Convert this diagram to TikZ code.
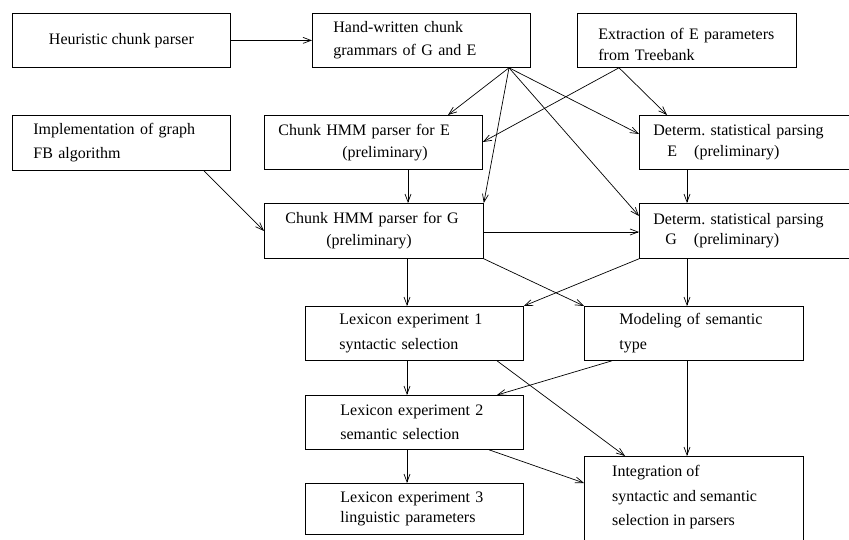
\documentclass[tikz,border=0pt]{standalone}
\usepackage{fontspec}
\setmainfont{Liberation Serif}
\usetikzlibrary{arrows.meta,calc}

\begin{document}
\begin{tikzpicture}[x=1pt,y=-1pt,
  box/.style={draw, line width=0.8pt, anchor=north west, inner ysep=0pt,
    minimum height=54pt, font=\fontsize{16}{24}\selectfont},
  lbox/.style={box, align=left},
  txt/.style={inner sep=0pt, align=left, font=\fontsize{16}{24}\selectfont},
  arr/.style={line width=0.7pt, -{Straight Barb[length=8pt,width=6pt]}}]
\useasboundingbox (0,0) rectangle (849,540);
\clip (0,0) rectangle (849,540);

% planning boxes, placed by their upper left corners
\node[box, minimum width=218pt, align=center, inner xsep=0pt] (b1) at (12,13) {Heuristic chunk parser};
\node[lbox, minimum width=218pt, text width=176pt, inner xsep=21pt] (b2) at (312,13)
  {Hand-written chunk\\[-1pt]grammars of G and E};
\node[lbox, minimum width=219pt, text width=177pt, inner xsep=21pt] (b3) at (577,13)
  {\rule{0pt}{20pt}Extraction of E parameters\\[-3pt]from Treebank};
\node[lbox, minimum width=218pt, minimum height=55pt, text width=176pt, inner xsep=21pt] (b4) at (12,115)
  {Implementation of graph\\FB algorithm};
\node[lbox, minimum width=218pt, text width=190pt, inner xsep=14pt] (b5) at (264,115)
  {Chunk HMM parser for E\\[-2pt]\hspace*{64pt}(preliminary)};
\node[lbox, minimum width=230pt, text width=202pt, inner xsep=14pt] (b6) at (639,115)
  {Determ.\ statistical parsing\\[-3pt]\hspace*{14pt}E\hspace{17pt}(preliminary)};
\node[lbox, minimum width=219pt, minimum height=55pt, text width=177pt, inner xsep=21pt] (b7) at (264,203)
  {Chunk HMM parser for G\\[-2pt]\hspace*{41pt}(preliminary)};
\node[lbox, minimum width=230pt, minimum height=55pt, text width=202pt, inner xsep=14pt] (b8) at (639,203)
  {Determ.\ statistical parsing\\[-4pt]\hspace*{12pt}G\hspace{17pt}(preliminary)};
\node[lbox, minimum width=218pt, text width=150pt, inner xsep=34pt] (b9) at (305,306)
  {Lexicon experiment 1\\[1pt]syntactic selection};
\node[lbox, minimum width=219pt, text width=149pt, inner xsep=35pt] (b10) at (584,306)
  {Modeling of semantic\\[1pt]type};
\node[lbox, minimum width=218pt, text width=148pt, inner xsep=35pt] (b11) at (305,395)
  {Lexicon experiment 2\\semantic selection};
\node[lbox, minimum width=218pt, minimum height=51pt, text width=148pt, inner xsep=35pt] (b12) at (305,483)
  {Lexicon experiment 3\\[-4pt]linguistic parameters};
\node[box, minimum width=219pt, minimum height=110pt] (b13) at (584,456) {};
\node[txt, anchor=west] (t13) at ($(b13.north west)+(28,41.5)$)
  {Integration of\\[1pt]syntactic and semantic\\selection in parsers};

% dependencies
\draw[arr] (b1) -- (b2);
\draw[arr] ($(b2.south west)+(197,0)$) -- ($(b5.north west)+(184,0)$);
\draw[arr] ($(b2.south west)+(197,0)$) -- (b7.north east);
\draw[arr] ($(b2.south west)+(197,0)$) -- ($(b8.north west)+(0,13)$);
\draw[arr] ($(b2.south west)+(197,0)$) -- ($(b6.north west)+(0,19)$);
\draw[arr] ($(b3.south west)+(42,0)$) -- ($(b5.north east)+(0,27)$);
\draw[arr] ($(b3.south west)+(42,0)$) -- ($(b6.north west)+(28,0)$);
\draw[arr] ($(b4.south west)+(192,0)$) -- ($(b7.north west)+(0,28)$);
\draw[arr] ($(b5.south west)+(144,0)$) -- ($(b7.north west)+(144,0)$);
\draw[arr] ($(b6.south west)+(48,0)$) -- ($(b8.north west)+(48,0)$);
\draw[arr] ($(b7.north east)+(0,29)$) -- ($(b8.north west)+(0,29)$);
\draw[arr] ($(b7.south west)+(143,0)$) -- ($(b9.north west)+(102,0)$);
\draw[arr] (b7.south east) -- (b10.north west);
\draw[arr] (b8.south west) -- (b9.north east);
\draw[arr] ($(b8.south west)+(48,0)$) -- ($(b10.north west)+(103,0)$);
\draw[arr] ($(b9.south west)+(102,0)$) -- ($(b11.north west)+(102,0)$);
\draw[arr] ($(b9.south west)+(192,0)$) -- ($(b13.north west)+(41,0)$);
\draw[arr] ($(b10.south west)+(28,0)$) -- ($(b11.north west)+(192,0)$);
\draw[arr] ($(b10.south west)+(103,0)$) -- ($(b13.north west)+(103,0)$);
\draw[arr] ($(b11.south west)+(102,0)$) -- ($(b12.north west)+(102,0)$);
\draw[arr] ($(b11.south west)+(184,0)$) -- ($(b13.north west)+(0,27)$);
\end{tikzpicture}
\end{document}
